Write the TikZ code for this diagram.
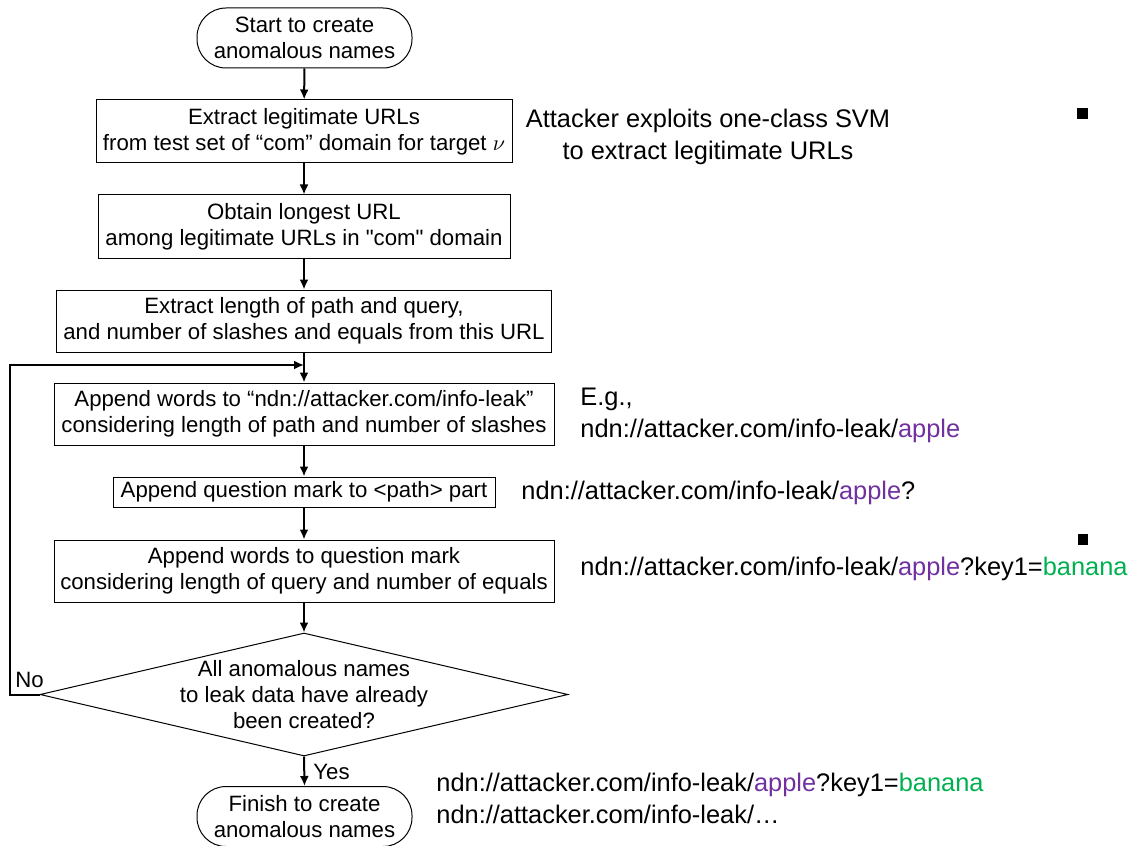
\documentclass[tikz,border=0pt]{standalone}
\usepackage{fontspec}
\setmainfont{Liberation Sans}[Ligatures=TeXOff]
\usetikzlibrary{arrows.meta,shapes.geometric}
\definecolor{urlpurple}{HTML}{7030A0}
\definecolor{urlgreen}{HTML}{00B050}

\begin{document}
\begin{tikzpicture}[x=0.5pt,y=-0.5pt,
  box/.style={draw, line width=0.5pt, align=center, inner sep=0pt,
    font=\fontsize{11.1}{13}\selectfont},
  term/.style={box, rounded corners=14.5pt},
  arr/.style={line width=1pt, -{Latex[length=5pt,width=4.5pt]}},
  lbl/.style={inner sep=0pt, font=\fontsize{11.1}{13}\selectfont},
  note/.style={inner sep=0pt, font=\fontsize{12.7}{16}\selectfont}
]
\useasboundingbox (0,0) rectangle (1128,845);

% flow steps
\node[term, minimum width=107.5pt, minimum height=30pt] (start) at (304.5,38)
  {Start to create\\anomalous names};
\node[box, minimum width=208pt, minimum height=31.5pt] (b1) at (304,131.5)
  {Extract legitimate URLs\\from test set of “com” domain for target $\nu$};
\node[box, minimum width=206pt, minimum height=31.5pt] (b2) at (304,226.5)
  {Obtain longest URL\\among legitimate URLs in "com" domain};
\node[box, minimum width=247.5pt, minimum height=31pt] (b3) at (304,321)
  {Extract length of path and query,\\and number of slashes and equals from this URL};
\node[box, minimum width=250pt, minimum height=31pt] (b4) at (304,414)
  {Append words to “ndn://attacker.com/info-leak”\\considering length of path and number of slashes};
\node[box, minimum width=191pt, minimum height=15pt] (b5) at (304,492)
  {Append question mark to <path> part};
\node[box, minimum width=250pt, minimum height=31pt] (b6) at (304,571)
  {Append words to question mark\\considering length of query and number of equals};

% decision
\node[draw, diamond, line width=0.5pt, inner sep=0pt,
  minimum width=264pt, minimum height=61.5pt] (dec) at (304,694.5) {};
\node[lbl, align=center] (dectext) at (304,695)
  {All anomalous names\\to leak data have already\\been created?};

\node[term, minimum width=107.5pt, minimum height=30pt] (fin) at (304.5,816.5)
  {Finish to create\\anomalous names};

% connectors
\coordinate (join) at (304,365);
\coordinate (loopbl) at (10,694.5);
\coordinate (looptl) at (10,365);
\draw[arr] (start) -- (b1);
\draw[arr] (b1) -- (b2);
\draw[arr] (b2) -- (b3);
\draw[arr] (b3) -- (b4);
\draw[arr] (b4) -- (b5);
\draw[arr] (b5) -- (b6);
\draw[arr] (b6.south) -- (dec.north);
\draw[arr] (dec.south) -- (fin.north);
\draw[arr] (dec.west) -- (loopbl) -- (looptl) -- (join);

\node[lbl, anchor=west] (no) at (15,680) {No};
\node[lbl, anchor=west] (yes) at (313,772) {Yes};

% annotations
\node[note, align=center] (n1) at (708,137)
  {Attacker exploits one-class SVM\\to extract legitimate URLs};
\node[note, align=left, anchor=west] (n2) at (580,415)
  {E.g.,\\ndn://attacker.com/info-leak/\textcolor{urlpurple}{apple}};
\node[note, anchor=west] (n3) at (521,493)
  {ndn://attacker.com/info-leak/\textcolor{urlpurple}{apple}?};
\node[note, anchor=west] (n4) at (580,569)
  {ndn://attacker.com/info-leak/\textcolor{urlpurple}{apple}?key1=\textcolor{urlgreen}{banana}};
\node[note, align=left, anchor=west] (n5) at (436,798)
  {ndn://attacker.com/info-leak/\textcolor{urlpurple}{apple}?key1=\textcolor{urlgreen}{banana}\\ndn://attacker.com/info-leak/…};

% small square markers
\fill (1077,108) rectangle (1088,119);
\fill (1078,534) rectangle (1088,545);
\end{tikzpicture}
\end{document}
